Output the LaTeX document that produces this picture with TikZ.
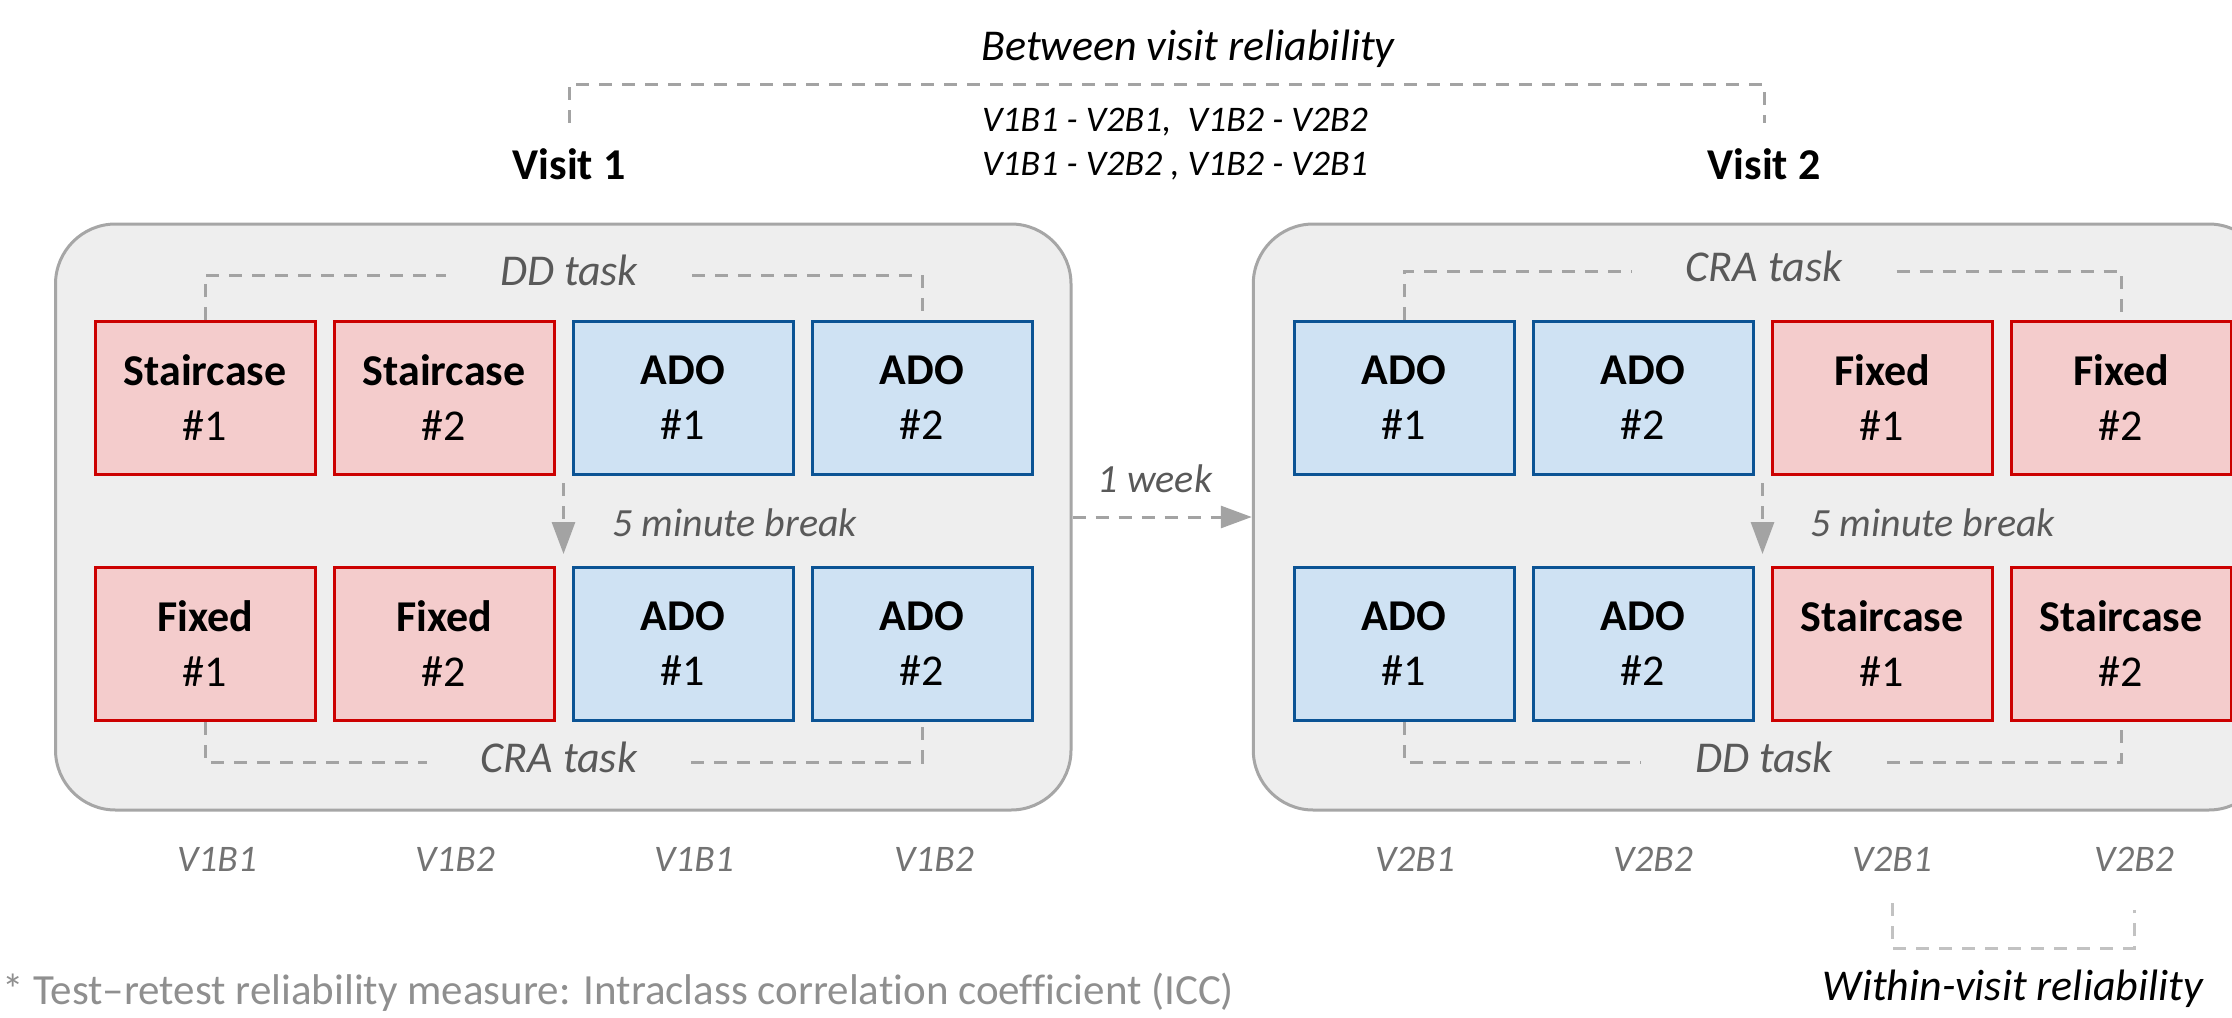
\documentclass[tikz,border=0pt]{standalone}
\usepackage{fontspec}
\setmainfont{Carlito}[Ligatures={CommonOff}]
\usetikzlibrary{calc,arrows.meta}
\definecolor{panelfill}{HTML}{EEEEEE}
\definecolor{panelline}{HTML}{A6A6A6}
\definecolor{redfill}{HTML}{F4CCCC}
\definecolor{redline}{HTML}{CC0000}
\definecolor{bluefill}{HTML}{CFE2F3}
\definecolor{blueline}{HTML}{0B5394}
\definecolor{dashgray}{HTML}{A3A3A3}
\definecolor{lightdash}{HTML}{C2C2C2}
\definecolor{labgray}{HTML}{595959}
\definecolor{vgray}{HTML}{737373}
\definecolor{footgray}{HTML}{8F8F8F}
\begin{document}
\begin{tikzpicture}[x=0.5pt,y=-0.5pt,
  panel/.style={draw=panelline, fill=panelfill, line width=1.5pt, rounded corners=30pt,
    minimum width=507.75pt, minimum height=293pt, inner sep=0pt},
  redbox/.style={draw=redline, fill=redfill, line width=1.5pt, minimum width=110pt,
    minimum height=76.5pt, align=center, inner sep=0pt, font=\fontsize{22}{27.5}\selectfont},
  bluebox/.style={redbox, draw=blueline, fill=bluefill},
  dashline/.style={draw=dashgray, line width=1.5pt, dash pattern=on 6.5pt off 5pt},
  tasklbl/.style={font=\fontsize{22}{26}\selectfont\itshape, text=labgray, inner xsep=27pt,
    inner ysep=0pt, text height=10pt, text depth=0pt},
  grayital/.style={font=\fontsize{20}{24}\selectfont\itshape, text=labgray, inner sep=0pt},
  vlbl/.style={font=\fontsize{18.75}{22}\selectfont\itshape, text=vgray, inner sep=0pt, anchor=base},
  visit/.style={font=\fontsize{22}{26}\selectfont\bfseries, inner sep=0pt, anchor=base},
  pairlbl/.style={font=\fontsize{18}{22}\selectfont\itshape, inner sep=0pt, anchor=base},
  bigital/.style={font=\fontsize{22}{26}\selectfont\itshape, inner sep=0pt, anchor=base}
]
\path[use as bounding box, clip] (0,0) rectangle (2232,1017);

% panels
\node[panel] (P1) at (563.25,517) {};
\node[panel] (P2) at (1761,517) {};

% left panel boxes
\node[redbox]  (L11) at (205,398) {\textbf{Staircase}\\\#1};
\node[redbox]  (L12) at (444,398) {\textbf{Staircase}\\\#2};
\node[bluebox] (L13) at (683,398) {\textbf{ADO}\\\#1};
\node[bluebox] (L14) at (922,398) {\textbf{ADO}\\\#2};
\node[redbox]  (L21) at (205,644) {\textbf{Fixed}\\\#1};
\node[redbox]  (L22) at (444,644) {\textbf{Fixed}\\\#2};
\node[bluebox] (L23) at (683,644) {\textbf{ADO}\\\#1};
\node[bluebox] (L24) at (922,644) {\textbf{ADO}\\\#2};

% right panel boxes
\node[bluebox] (R11) at (1404,398) {\textbf{ADO}\\\#1};
\node[bluebox] (R12) at (1643,398) {\textbf{ADO}\\\#2};
\node[redbox]  (R13) at (1882,398) {\textbf{Fixed}\\\#1};
\node[redbox]  (R14) at (2121,398) {\textbf{Fixed}\\\#2};
\node[bluebox] (R21) at (1404,644) {\textbf{ADO}\\\#1};
\node[bluebox] (R22) at (1643,644) {\textbf{ADO}\\\#2};
\node[redbox]  (R23) at (1882,644) {\textbf{Staircase}\\\#1};
\node[redbox]  (R24) at (2121,644) {\textbf{Staircase}\\\#2};

% task labels and brackets
\node[tasklbl] (T1) at (569,275) {DD task};
\node[tasklbl] (T2) at (559,762) {CRA task};
\node[tasklbl] (T3) at (1764,271) {CRA task};
\node[tasklbl] (T4) at (1764,762) {DD task};
\draw[dashline] (L11.north) |- (T1.west);
\draw[dashline] (T1.east) -| (L14.north);
\draw[dashline] (L21.south) |- (T2.west);
\draw[dashline] (T2.east) -| (L24.south);
\draw[dashline] (R11.north) |- (T3.west);
\draw[dashline] (T3.east) -| (R14.north);
\draw[dashline] (R21.south) |- (T4.west);
\draw[dashline] (T4.east) -| (R24.south);

% 5 minute break
\coordinate (BL) at ($(L12.south east)!0.5!(L13.south west)$);
\coordinate (BR) at ($(R12.south east)!0.5!(R13.south west)$);
\draw[dashline, -{Triangle[length=16pt,width=11.5pt]}, shorten <=3.5pt, shorten >=6pt] (BL) -- (BL |- L23.north);
\draw[dashline, -{Triangle[length=16pt,width=11.5pt]}, shorten <=3.5pt, shorten >=6pt] (BR) -- (BR |- R23.north);
\node[grayital, anchor=base west] (K1) at (612,536) {5 minute break};
\node[grayital, anchor=base west] (K2) at (1810,536) {5 minute break};

% 1 week
\draw[dashline, -{Triangle[length=15.5pt,width=11pt]}] (P1.east) -- (P2.west);
\node[grayital, anchor=base] (W) at (1155,492) {1 week};

% visits and between-visit bracket
\node[visit] (V1) at (569,179) {Visit 1};
\node[visit] (V2) at (1764,179) {Visit 2};
\coordinate (BT) at (1166,84);
\draw[dashline, shorten <=12.5pt, shorten >=12.5pt] (V1.north) |- (BT) -| (V2.north);
\node[bigital] (BV) at (1188,60) {Between visit reliability};
\node[pairlbl] (PA) at (1175,131) {V1B1 - V2B1,\ \ V1B2 - V2B2};
\node[pairlbl] (PB) at (1175,175) {V1B1 - V2B2 , V1B2 - V2B1};

% block labels
\node[vlbl] (A1) at (217,871) {V1B1};
\node[vlbl] (A2) at (455,871) {V1B2};
\node[vlbl] (A3) at (694,871) {V1B1};
\node[vlbl] (A4) at (934,871) {V1B2};
\node[vlbl] (A5) at (1415,871) {V2B1};
\node[vlbl] (A6) at (1653,871) {V2B2};
\node[vlbl] (A7) at (1892,871) {V2B1};
\node[vlbl] (A8) at (2134,871) {V2B2};

% within-visit bracket
\draw[dashline, draw=lightdash] ([yshift=-16pt]A7.south) -- ([yshift=-38.5pt]A7.south) -| ([yshift=-19.5pt]A8.south);
\node[bigital] (WV) at (2013,1000) {Within-visit reliability};

% footnote
\node[font=\fontsize{21.5}{26}\selectfont, text=footgray, inner sep=0pt, anchor=base west] (FN) at (2,1004)
  {* Test–retest reliability measure: Intraclass correlation coefficient (ICC)};
\end{tikzpicture}
\end{document}
